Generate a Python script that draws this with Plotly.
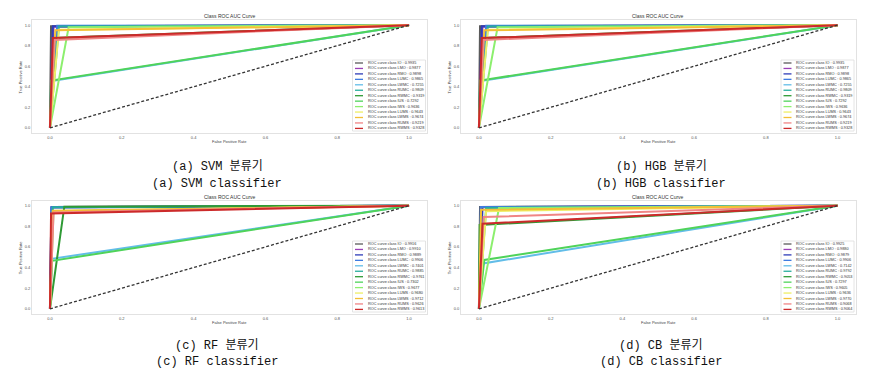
import plotly.graph_objects as go

# browser body margin is 8px: lay out in reference pixels, shifted by OFF
OFF = 8
W, H = 881 - OFF, 382 - OFF

# ---------------- data ----------------
classes = ["IO", "LMO", "RMO", "LUMC", "LWMC", "RUMC", "RWMC",
           "IUS", "IWS", "LUMS", "LWMS", "RUMS", "RWMS"]

svm_auc = [0.9935, 0.9877, 0.9898, 0.9865, 0.7255, 0.9809, 0.9319,
           0.7292, 0.9636, 0.9643, 0.9674, 0.9219, 0.9328]
svm_fpr = [0.003, 0.010, 0.008, 0.020, 0.005, 0.025, 0.010,
           0.003, 0.052, 0.025, 0.015, 0.012, 0.008]
svm_tpr = [0.990, 0.985, 0.988, 0.993, 0.456, 0.987, 0.874,
           0.461, 0.979, 0.955, 0.950, 0.856, 0.874]

hgb_auc = [0.9935, 0.9877, 0.9898, 0.9865, 0.7255, 0.9809, 0.9319,
           0.7292, 0.9636, 0.9643, 0.9674, 0.9219, 0.9328]
hgb_fpr = [0.003, 0.010, 0.008, 0.020, 0.005, 0.025, 0.010,
           0.003, 0.052, 0.025, 0.015, 0.012, 0.008]
hgb_tpr = [0.990, 0.985, 0.988, 0.993, 0.456, 0.987, 0.874,
           0.461, 0.979, 0.955, 0.950, 0.856, 0.874]

rf_auc = [0.9916, 0.9910, 0.9889, 0.9906, 0.7401, 0.9885, 0.9761,
          0.7302, 0.9677, 0.9680, 0.9712, 0.9626, 0.9613]
rf_fpr = [0.005, 0.006, 0.004, 0.004, 0.005, 0.008, 0.040,
          0.006, 0.010, 0.008, 0.008, 0.010, 0.003]
rf_tpr = [0.988, 0.988, 0.982, 0.985, 0.485, 0.985, 0.990,
          0.466, 0.945, 0.944, 0.950, 0.935, 0.925]

cb_auc = [0.9925, 0.9880, 0.9879, 0.9906, 0.7142, 0.9792, 0.9053,
          0.7297, 0.9605, 0.9636, 0.9770, 0.9068, 0.9064]
cb_fpr = [0.003, 0.008, 0.010, 0.005, 0.012, 0.020, 0.002,
          0.015, 0.056, 0.020, 0.006, 0.013, 0.010]
cb_tpr = [0.988, 0.984, 0.986, 0.986, 0.440, 0.978, 0.813,
          0.474, 0.977, 0.947, 0.960, 0.890, 0.825]

captions_ko = ["(a) SVM 분류기", "(b) HGB 분류기", "(c) RF 분류기", "(d) CB 분류기"]
captions_en = ["(a) SVM classifier", "(b) HGB classifier", "(c) RF classifier", "(d) CB classifier"]

tick_vals = [0.0, 0.2, 0.4, 0.6, 0.8, 1.0]
tick_text = ["0.0", "0.2", "0.4", "0.6", "0.8", "1.0"]

# ---------------- styles ----------------
colors = ["#5a5a5a", "#9b3fb5", "#2f3db8", "#3f7be0", "#62bde8", "#27ad9c",
          "#2f9a35", "#4fd35a", "#8cef6e", "#eeee66", "#f3bf35", "#f08585", "#cc2a2a"]

panels = [
    dict(auc=svm_auc, fpr=svm_fpr, tpr=svm_tpr, box=(32, 427, 20, 133), cap=(217, 167, 184)),
    dict(auc=hgb_auc, fpr=hgb_fpr, tpr=hgb_tpr, box=(461, 855.5, 20, 133), cap=(661, 167, 184)),
    dict(auc=rf_auc, fpr=rf_fpr, tpr=rf_tpr, box=(32, 427, 200.5, 314), cap=(217, 345, 362)),
    dict(auc=cb_auc, fpr=cb_fpr, tpr=cb_tpr, box=(461, 855.5, 200.5, 314), cap=(661, 345, 362)),
]


def px(x):
    return (x - OFF) / W


def py(y):
    return 1 - (y - OFF) / H


def note(text, x, y, size, color, family, xanchor="center", **kw):
    return dict(text=text, x=px(x), y=py(y), xref="paper", yref="paper",
                xanchor=xanchor, yanchor="middle", showarrow=False,
                font=dict(size=size, color=color, family=family), **kw)


fig = go.Figure()
shapes = []
annotations = []
layout_axes = {}

for i, p in enumerate(panels):
    n = "" if i == 0 else str(i + 1)
    xa, ya = "x" + n, "y" + n
    x0, x1, y0, y1 = p["box"]

    for k, c in enumerate(classes):
        fig.add_trace(go.Scatter(
            x=[0.0, p["fpr"][k], 1.0], y=[0.0, p["tpr"][k], 1.0],
            mode="lines", line=dict(color=colors[k], width=2),
            xaxis=xa, yaxis=ya, showlegend=False, hoverinfo="skip"))
    fig.add_trace(go.Scatter(
        x=[0, 1], y=[0, 1], mode="lines",
        line=dict(color="#333333", width=1.3, dash="3px,2px"),
        xaxis=xa, yaxis=ya, showlegend=False, hoverinfo="skip"))

    axcommon = dict(range=[-0.05, 1.05], showgrid=False, zeroline=False,
                    showline=True, mirror=True, linecolor="#e2e2e2", linewidth=1,
                    tickvals=tick_vals, ticktext=tick_text, ticks="",
                    tickfont=dict(size=4, color="#555555", family="Liberation Sans"))
    layout_axes["xaxis" + n] = dict(axcommon, domain=[px(x0), px(x1)], anchor=ya)
    layout_axes["yaxis" + n] = dict(axcommon, domain=[py(y1), py(y0)], anchor=xa)

    cx = (x0 + x1) / 2
    cy = (y0 + y1) / 2
    sans = "Liberation Sans"
    annotations.append(note("Class ROC AUC Curve", cx, y0 - 4, 5, "#333333", sans))
    annotations.append(note("False Positive Rate", cx, y1 + 8.5, 4, "#444444", sans))
    annotations.append(note("True Positive Rate", x0 - 12, cy, 4, "#444444", sans, textangle=-90))

    # legend box
    lx1 = x1 - 1.5
    lx0 = lx1 - 73
    ly1 = y1 - 2
    ly0 = ly1 - 71
    shapes.append(dict(type="rect", xref="paper", yref="paper",
                       x0=px(lx0), x1=px(lx1), y0=py(ly1), y1=py(ly0),
                       line=dict(color="#dddddd", width=0.8), fillcolor="white", layer="above"))
    for k, c in enumerate(classes):
        ry = ly0 + 3 + k * 5.45
        shapes.append(dict(type="line", xref="paper", yref="paper",
                           x0=px(lx0 + 2.5), x1=px(lx0 + 10.5), y0=py(ry), y1=py(ry),
                           line=dict(color=colors[k], width=1.3), layer="above"))
        annotations.append(note("ROC curve class %s : %.4f" % (c, p["auc"][k]),
                                lx0 + 13, ry, 3.8, "#333333", sans, xanchor="left"))

    ccx, cy1, cy2 = p["cap"]
    capfont = "Liberation Mono, Noto Sans CJK KR"
    annotations.append(note(captions_ko[i], ccx, cy1, 12, "#111111", capfont))
    annotations.append(note(captions_en[i], ccx, cy2, 12, "#111111", capfont))

fig.update_layout(width=W, height=H, margin=dict(l=0, r=0, t=0, b=0),
                  paper_bgcolor="white", plot_bgcolor="white",
                  shapes=shapes, annotations=annotations, **layout_axes)

fig.write_html("out.html")
